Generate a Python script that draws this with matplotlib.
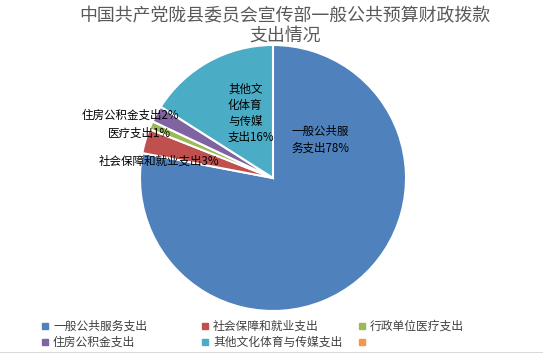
import matplotlib
matplotlib.use("Agg")
import matplotlib.pyplot as plt

plt.rcParams['font.family'] = ['Noto Sans CJK SC', 'DejaVu Sans']

title = "中国共产党陇县委员会宣传部一般公共预算财政拨款\n支出情况"
categories = ["一般公共服务支出", "社会保障和就业支出", "医疗支出", "住房公积金支出", "其他文化体育与传媒支出"]
values = [78, 3, 1, 2, 16]
legend_labels = ["一般公共服务支出", "社会保障和就业支出", "行政单位医疗支出", "住房公积金支出", "其他文化体育与传媒支出", ""]
colors = ["#4F81BD", "#C0504D", "#9BBB59", "#8064A2", "#4BACC6", "#F79646"]

W, H = 543, 353
fig = plt.figure(figsize=(W/100, H/100), dpi=100)
ax = fig.add_axes([0, 0, 1, 1])
ax.set_xlim(0, W)
ax.set_ylim(0, H)
ax.set_aspect('equal')
ax.axis('off')

cx, cy, r = 273, H - 178, 133
ax.pie(values, colors=colors[:5], startangle=90, counterclock=False,
       center=(cx, cy), radius=r, explode=[0.0, 0.03, 0.03, 0.03, 0.03],
       wedgeprops=dict(edgecolor='white', linewidth=1.5))
ax.set_xlim(0, W)
ax.set_ylim(0, H)

fs = 8.3
ax.text(291, H - 140, "一般公共服\n务支出%d%%" % values[0], fontsize=fs, ha='left', va='center',
        multialignment='left', linespacing=1.35)
ax.text(228, H - 113, "其他文\n化体育\n与传媒\n支出%d%%" % values[4], fontsize=fs, ha='left', va='center',
        multialignment='left', linespacing=1.3)
ax.text(179, H - 115, "住房公积金支出%d%%" % values[3], fontsize=fs, ha='right', va='center')
ax.text(171, H - 133, "医疗支出%d%%" % values[2], fontsize=fs, ha='right', va='center')
ax.text(219, H - 161, "社会保障和就业支出%d%%" % values[1], fontsize=fs, ha='right', va='center')

fig.text(285/W, 1 - 26/H, title, fontsize=12.9, color='#595959', ha='center', va='center', linespacing=1.15)

xs = [45, 205, 362]
ys = [H - 326, H - 342]
for i, (lab, c) in enumerate(zip(legend_labels, colors)):
    x = xs[i % 3]
    y = ys[i // 3]
    ax.add_patch(plt.Rectangle((x - 3, y - 3), 6, 6, color=c))
    ax.text(x + 8, y, lab, fontsize=8.5, color='#404040', ha='left', va='center')

ax.plot([0, W], [0.5, 0.5], color='#D9D9D9', linewidth=1.5)

fig.savefig("out.png", dpi=100)
